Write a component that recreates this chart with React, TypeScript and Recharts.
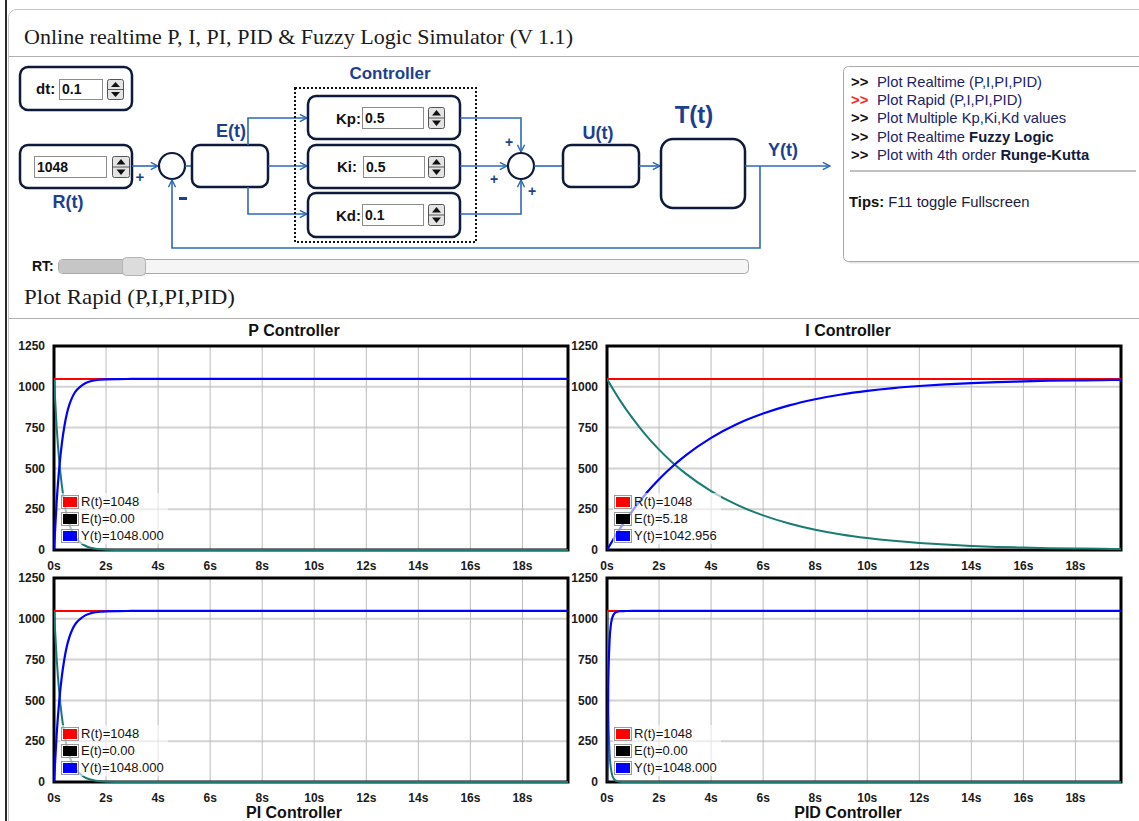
import React from 'react';
import { LineChart, Line, XAxis, YAxis, CartesianGrid, ReferenceArea } from 'recharts';

// ---------- data ----------
const R_VALUE = 1048;
const X_MAX = 19.75;
const xTicks = [0, 2, 4, 6, 8, 10, 12, 14, 16, 18];
const yTicks = [0, 250, 500, 750, 1000, 1250];

// P controller
const pTime = [0, 0.1, 0.2, 0.3, 0.4, 0.5, 0.6, 0.7, 0.8, 0.9, 1.0, 1.2, 1.4, 1.6, 1.8, 2.0, 2.5, 3, 4, 6, 8, 10, 12, 14, 16, 18, 19.75];
const pY = [0, 290, 500, 650, 760, 840, 895, 935, 965, 985, 1000, 1022, 1034, 1041, 1044, 1046, 1047.5, 1048, 1048, 1048, 1048, 1048, 1048, 1048, 1048, 1048, 1048];
const pE = [1048, 758, 548, 398, 288, 208, 153, 113, 83, 63, 48, 26, 14, 7, 4, 2, 0.5, 0, 0, 0, 0, 0, 0, 0, 0, 0, 0];
const pLegend = ['R(t)=1048', 'E(t)=0.00', 'Y(t)=1048.000'];

// I controller
const iTime = [0, 0.5, 1, 1.5, 2, 2.5, 3, 4, 5, 6, 7, 8, 9, 10, 11, 12, 13, 14, 15, 16, 17, 18, 19, 19.75];
const iY = [0, 131, 245, 346, 433, 510, 577, 687, 772, 836, 886, 924, 953, 975, 992, 1005, 1015, 1023, 1029, 1033, 1037, 1039, 1041, 1042.956];
const iE = [1048, 917, 803, 702, 615, 538, 471, 361, 276, 212, 162, 124, 95, 73, 56, 43, 33, 25, 19, 15, 11, 9, 7, 5.18];
const iLegend = ['R(t)=1048', 'E(t)=5.18', 'Y(t)=1042.956'];

// PI controller
const piTime = [0, 0.1, 0.2, 0.3, 0.4, 0.5, 0.6, 0.7, 0.8, 0.9, 1.0, 1.2, 1.4, 1.6, 1.8, 2.0, 2.5, 3, 4, 6, 8, 10, 12, 14, 16, 18, 19.75];
const piY = [0, 285, 495, 645, 755, 836, 892, 933, 963, 983, 998, 1021, 1033, 1040, 1044, 1046, 1047.5, 1048, 1048, 1048, 1048, 1048, 1048, 1048, 1048, 1048, 1048];
const piE = [1048, 763, 553, 403, 293, 212, 156, 115, 85, 65, 50, 27, 15, 8, 4, 2, 0.5, 0, 0, 0, 0, 0, 0, 0, 0, 0, 0];
const piLegend = ['R(t)=1048', 'E(t)=0.00', 'Y(t)=1048.000'];

// PID controller
const pidTime = [0, 0.05, 0.1, 0.15, 0.2, 0.25, 0.3, 0.35, 0.4, 0.5, 0.6, 0.8, 1.0, 2, 4, 6, 8, 10, 12, 14, 16, 18, 19.75];
const pidY = [0, 620, 870, 965, 1005, 1025, 1036, 1041, 1044, 1046.5, 1047.3, 1047.8, 1048, 1048, 1048, 1048, 1048, 1048, 1048, 1048, 1048, 1048, 1048];
const pidE = [1048, 428, 178, 83, 43, 23, 12, 7, 4, 1.5, 0.7, 0.2, 0, 0, 0, 0, 0, 0, 0, 0, 0, 0, 0];
const pidLegend = ['R(t)=1048', 'E(t)=0.00', 'Y(t)=1048.000'];

const seriesColors = ['#ff0000', '#000000', '#0000ff'];

const buildRows = (time: number[], y: number[], e: number[]) =>
  time.map((t, i) => ({ t, r: R_VALUE, e: e[i], y: y[i] }));

// ---------- styles ----------
const SANS = '"Liberation Sans", Arial, sans-serif';
const SERIF = '"Liberation Serif", "Times New Roman", serif';
const LINE = '#3068b6';
const NAVY = '#0e1a3c';
const LABEL = '#1d3f8f';
const TEAL = '#1a7b73';

const CHART_W = 576;
const CHART_H = 262;

function LegendBox({ labels }: { labels: string[] }) {
  return (
    <div
      style={{
        position: 'absolute',
        left: 60,
        top: 175,
        background: 'rgba(255,255,255,0.6)',
        padding: '0px 4px 0px 1px',
        fontFamily: SANS,
        fontSize: 13,
        color: '#111',
      }}
    >
      {labels.map((lab, i) => (
        <div key={lab} style={{ display: 'flex', alignItems: 'center', height: 17 }}>
          <span style={{ display: 'inline-block', border: '1px solid #9a9a9a', padding: 1, marginRight: 2 }}>
            <span style={{ display: 'block', width: 14, height: 10, background: seriesColors[i] }} />
          </span>
          <span>{lab}</span>
        </div>
      ))}
    </div>
  );
}

function ControlChart({ left, top, rows, legend }: { left: number; top: number; rows: any[]; legend: string[] }) {
  const tickStyle = { fontSize: 12, fill: '#1a1a1a', fontFamily: SANS, fontWeight: 'bold' as const };
  return (
    <div style={{ position: 'absolute', left, top, width: CHART_W, height: CHART_H }}>
      <LineChart width={CHART_W} height={CHART_H} data={rows} margin={{ top: 28, right: 8, bottom: 0, left: 0 }}>
        <CartesianGrid vertical={false} stroke="#d2d2d2" strokeWidth={2} />
        <CartesianGrid horizontal={false} stroke="#bdbdbd" strokeWidth={1} />
        <XAxis
          type="number"
          dataKey="t"
          domain={[0, X_MAX]}
          ticks={xTicks}
          interval={0}
          allowDataOverflow
          tickFormatter={(v: number) => `${v}s`}
          axisLine={false}
          tickLine={false}
          tickSize={6}
          tickMargin={5}
          height={30}
          tick={tickStyle}
        />
        <YAxis
          type="number"
          domain={[0, 1250]}
          ticks={yTicks}
          interval={0}
          axisLine={false}
          tickLine={false}
          tickSize={6}
          tickMargin={3}
          width={54}
          tick={tickStyle}
        />
        <Line type="monotone" dataKey="r" stroke="#ff0000" strokeWidth={2} dot={false} isAnimationActive={false} />
        <Line type="monotone" dataKey="e" stroke={TEAL} strokeWidth={2} dot={false} isAnimationActive={false} />
        <Line type="monotone" dataKey="y" stroke="#0000ff" strokeWidth={2.2} dot={false} isAnimationActive={false} />
        <ReferenceArea x1={0} x2={X_MAX} y1={0} y2={1250} fill="none" fillOpacity={0} stroke="#000" strokeWidth={3} ifOverflow="visible" />
      </LineChart>
      <LegendBox labels={legend} />
    </div>
  );
}

function Spinner({ x, y, w = 16, h = 20 }: { x: number; y: number; w?: number; h?: number }) {
  const cx = x + w / 2;
  const my = y + h / 2;
  return (
    <g>
      <rect x={x + 0.5} y={y + 0.5} width={w} height={h} rx={2} fill="#e4e4e4" stroke="#555" strokeWidth={1} />
      <line x1={x + 0.5} x2={x + w + 0.5} y1={my + 0.5} y2={my + 0.5} stroke="#555" strokeWidth={1} />
      <path d={`M${cx - 4},${my - 2} L${cx + 5},${my - 2} L${cx + 0.5},${y + 3} Z`} fill="#111" />
      <path d={`M${cx - 4},${my + 3} L${cx + 5},${my + 3} L${cx + 0.5},${y + h - 2} Z`} fill="#111" />
    </g>
  );
}

function InputBox({ x, y, w, h, value }: { x: number; y: number; w: number; h: number; value: string }) {
  return (
    <g>
      <rect x={x + 0.5} y={y + 0.5} width={w} height={h} fill="#fff" stroke="#8c8c8c" strokeWidth={1} />
      <text x={x + 3} y={y + h / 2 + 5} fontFamily={SANS} fontWeight="bold" fontSize={14} fill="#111">
        {value}
      </text>
    </g>
  );
}

function Block({ x, y, w, h, r = 8 }: { x: number; y: number; w: number; h: number; r?: number }) {
  return <rect x={x} y={y} width={w} height={h} rx={r} fill="#fff" stroke={NAVY} strokeWidth={2.5} />;
}

function Diagram() {
  const lbl = { fontFamily: SANS, fontWeight: 'bold' as const, fill: LABEL };
  return (
    <svg width={1139} height={821} style={{ position: 'absolute', left: 0, top: 0 }}>
      <defs>
        <marker id="arr" viewBox="0 0 10 10" refX="9" refY="5" markerWidth="9" markerHeight="9" orient="auto" markerUnits="userSpaceOnUse">
          <path d="M1,1 L9,5 L1,9" fill="none" stroke={LINE} strokeWidth="1.6" />
        </marker>
      </defs>

      {/* page frame */}
      <rect x={5} y={0} width={2} height={821} fill="#2a2a2a" />
      <rect x={8.5} y={9.5} width={1200} height={900} rx={8} fill="none" stroke="#c4c4c4" strokeWidth={1} />
      <line x1={9} x2={1139} y1={56.5} y2={56.5} stroke="#b0b0b0" strokeWidth={1} />
      <line x1={9} x2={1139} y1={318.5} y2={318.5} stroke="#b0b0b0" strokeWidth={1} />

      <text x={24} y={44} fontFamily={SERIF} fontSize={22} fill="#1a1a1a" textLength={549} lengthAdjust="spacingAndGlyphs">
        Online realtime P, I, PI, PID &amp; Fuzzy Logic Simulator (V 1.1)
      </text>
      <text x={24} y={304} fontFamily={SERIF} fontSize={22} fill="#1a1a1a" textLength={211} lengthAdjust="spacingAndGlyphs">
        Plot Rapid (P,I,PI,PID)
      </text>

      {/* dt box */}
      <Block x={20} y={67} w={112} h={43} />
      <text x={36} y={94} fontFamily={SANS} fontWeight="bold" fontSize={15} fill="#111">dt:</text>
      <InputBox x={59} y={79} w={43} h={20} value="0.1" />
      <Spinner x={107} y={79} w={16} h={20} />

      {/* R box */}
      <Block x={20} y={145} w={112} h={43} />
      <InputBox x={34} y={156} w={72} h={21} value="1048" />
      <Spinner x={112} y={156} w={17} h={21} />
      <text x={68} y={208} textAnchor="middle" fontSize={18} {...lbl}>R(t)</text>
      <text x={140} y={182} textAnchor="middle" fontSize={15} {...lbl}>+</text>

      {/* sum 1 */}
      <line x1={132} y1={166} x2={158} y2={166} stroke={LINE} strokeWidth={1.6} markerEnd="url(#arr)" />
      <circle cx={172} cy={166} r={13} fill="#fff" stroke={NAVY} strokeWidth={2.2} />
      <rect x={179} y={197} width={8} height={3} fill={LABEL} />
      <line x1={185} y1={166} x2={192} y2={166} stroke={LINE} strokeWidth={1.6} />

      {/* E block */}
      <Block x={192} y={145} w={76} h={42} />
      <text x={231} y={137} textAnchor="middle" fontSize={18} {...lbl}>E(t)</text>
      <line x1={268} y1={166} x2={307} y2={166} stroke={LINE} strokeWidth={1.6} markerEnd="url(#arr)" />
      <polyline points="248,145 248,118 307,118" fill="none" stroke={LINE} strokeWidth={1.6} markerEnd="url(#arr)" />
      <polyline points="248,187 248,214 307,214" fill="none" stroke={LINE} strokeWidth={1.6} markerEnd="url(#arr)" />

      {/* controller */}
      <text x={390} y={79} textAnchor="middle" fontSize={17} {...lbl}>Controller</text>
      <rect x={295} y={88} width={181} height={154} fill="none" stroke="#111" strokeWidth={2} strokeDasharray="2 2" />

      <Block x={308} y={96} w={152} h={43} />
      <text x={336} y={124} fontFamily={SANS} fontWeight="bold" fontSize={15} fill="#111">Kp:</text>
      <InputBox x={362} y={107} w={61} h={21} value="0.5" />
      <Spinner x={428} y={107} w={16} h={21} />

      <Block x={308} y={145} w={152} h={43} />
      <text x={337} y={172} fontFamily={SANS} fontWeight="bold" fontSize={15} fill="#111">Ki:</text>
      <InputBox x={363} y={156} w={61} h={21} value="0.5" />
      <Spinner x={428} y={156} w={16} h={21} />

      <Block x={308} y={193} w={152} h={44} />
      <text x={336} y={221} fontFamily={SANS} fontWeight="bold" fontSize={15} fill="#111">Kd:</text>
      <InputBox x={362} y={204} w={61} h={21} value="0.1" />
      <Spinner x={428} y={204} w={16} h={21} />

      {/* sum 2 */}
      <polyline points="460,118 521,118 521,152" fill="none" stroke={LINE} strokeWidth={1.6} markerEnd="url(#arr)" />
      <line x1={460} y1={166} x2={507} y2={166} stroke={LINE} strokeWidth={1.6} markerEnd="url(#arr)" />
      <polyline points="460,214 521,214 521,180" fill="none" stroke={LINE} strokeWidth={1.6} markerEnd="url(#arr)" />
      <circle cx={521} cy={166} r={13} fill="#fff" stroke={NAVY} strokeWidth={2.2} />
      <text x={509} y={147} textAnchor="middle" fontSize={14} {...lbl}>+</text>
      <text x={494} y={184} textAnchor="middle" fontSize={14} {...lbl}>+</text>
      <text x={532} y={196} textAnchor="middle" fontSize={14} {...lbl}>+</text>
      <line x1={534} y1={166} x2={563} y2={166} stroke={LINE} strokeWidth={1.6} />

      {/* U block */}
      <Block x={563} y={145} w={76} h={42} />
      <text x={598} y={139} textAnchor="middle" fontSize={18} {...lbl}>U(t)</text>
      <line x1={639} y1={166} x2={660} y2={166} stroke={LINE} strokeWidth={1.6} markerEnd="url(#arr)" />

      {/* T block */}
      <Block x={661} y={139} w={84} h={69} r={12} />
      <text x={694} y={123} textAnchor="middle" fontSize={24} {...lbl}>T(t)</text>
      <line x1={745} y1={166} x2={830} y2={166} stroke={LINE} strokeWidth={1.6} markerEnd="url(#arr)" />
      <text x={783} y={156} textAnchor="middle" fontSize={18} {...lbl}>Y(t)</text>

      {/* feedback */}
      <polyline points="760,166 760,248 172,248 172,180" fill="none" stroke={LINE} strokeWidth={1.6} markerEnd="url(#arr)" />

      {/* slider */}
      <text x={32} y={271} fontFamily={SANS} fontWeight="bold" fontSize={14} fill="#111">RT:</text>
      <rect x={58.5} y={259.5} width={690} height={14} rx={4} fill="#f5f5f5" stroke="#a9a9a9" strokeWidth={1} />
      <rect x={59} y={260} width={70} height={13} rx={3} fill="#c6c6c6" />
      <rect x={122.5} y={257.5} width={23} height={18} rx={4} fill="#dcdcdc" stroke="#b3b3b3" strokeWidth={1} />

      {/* right panel */}
      <rect x={845.5} y={68.5} width={310} height={195} rx={5} fill="#e6e6e6" stroke="none" />
      <rect x={843.5} y={66.5} width={310} height={195} rx={5} fill="#fff" stroke="#a8a8a8" strokeWidth={1} />
      <g fontFamily={SANS} fontSize={14.8}>
        <text x={851} y={87}><tspan fontWeight="bold" fill="#111">&gt;&gt;</tspan><tspan x={877} fill="#1a2466">Plot Realtime (P,I,PI,PID)</tspan></text>
        <text x={851} y={105}><tspan fontWeight="bold" fill="#ff2020">&gt;&gt;</tspan><tspan x={877} fill="#1a2466">Plot Rapid (P,I,PI,PID)</tspan></text>
        <text x={851} y={123}><tspan fontWeight="bold" fill="#111">&gt;&gt;</tspan><tspan x={877} fill="#1a2466">Plot Multiple Kp,Ki,Kd values</tspan></text>
        <text x={851} y={142}><tspan fontWeight="bold" fill="#111">&gt;&gt;</tspan><tspan x={877} fill="#1a2466">Plot Realtime </tspan><tspan fontWeight="bold" fill="#111a3a">Fuzzy Logic</tspan></text>
        <text x={851} y={160}><tspan fontWeight="bold" fill="#111">&gt;&gt;</tspan><tspan x={877} fill="#1a2466">Plot with 4th order </tspan><tspan fontWeight="bold" fill="#111a3a">Runge-Kutta</tspan></text>
        <text x={849} y={207}><tspan fontWeight="bold" fill="#111">Tips:</tspan><tspan fill="#1a1a40"> F11 toggle Fullscreen</tspan></text>
      </g>
      <line x1={850} x2={1136} y1={171} y2={171} stroke="#c0c0c0" strokeWidth={2} />

      {/* chart titles */}
      <g fontFamily={SANS} fontWeight="bold" fontSize={16} fill="#111" textAnchor="middle">
        <text x={294} y={336}>P Controller</text>
        <text x={848} y={336}>I Controller</text>
        <text x={294} y={818}>PI Controller</text>
        <text x={848} y={818}>PID Controller</text>
      </g>
    </svg>
  );
}

export default function App() {
  return (
    <div style={{ position: 'absolute', left: 0, top: 0, width: 1139, height: 821, overflow: 'hidden', background: '#fff' }}>
      <Diagram />
      <ControlChart left={0} top={318} rows={buildRows(pTime, pY, pE)} legend={pLegend} />
      <ControlChart left={553} top={318} rows={buildRows(iTime, iY, iE)} legend={iLegend} />
      <ControlChart left={0} top={550} rows={buildRows(piTime, piY, piE)} legend={piLegend} />
      <ControlChart left={553} top={550} rows={buildRows(pidTime, pidY, pidE)} legend={pidLegend} />
    </div>
  );
}
